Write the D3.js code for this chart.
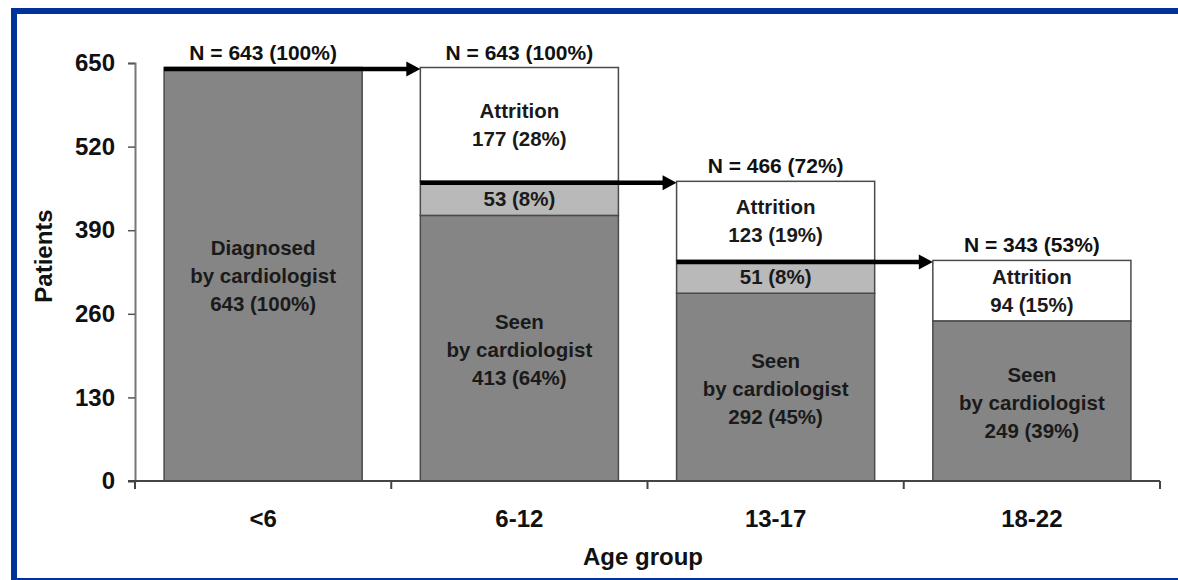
<!DOCTYPE html>
<html>
<head>
<meta charset="utf-8">
<script src="https://cdn.jsdelivr.net/npm/d3@7"></script>
<style>
  body { margin: 0; background: #fff; }
  svg { display: block; font-family: "Liberation Sans", Arial, sans-serif; font-weight: bold; }
</style>
</head>
<body>
<svg id="chart"></svg>
<script>
// --- data ---
const ageGroups = ["<6", "6-12", "13-17", "18-22"];
const seenValues = [643, 413, 292, 249];
const middleValues = [0, 53, 51, 0];
const attritionValues = [0, 177, 123, 94];
const totals = [643, 643, 466, 343];
const totalPct = ["100%", "100%", "72%", "53%"];
const seenPct = ["100%", "64%", "45%", "39%"];
const middlePct = ["", "8%", "8%", ""];
const attritionPct = ["", "28%", "19%", "15%"];
const yTicks = [0, 130, 260, 390, 520, 650];

const W = 1178, H = 580;
const svg = d3.select("#chart").attr("width", W).attr("height", H);

// blue frame
svg.append("rect").attr("x", 11).attr("y", 8).attr("width", W - 11).attr("height", 6).attr("fill", "#003399");
svg.append("rect").attr("x", 11).attr("y", 8).attr("width", 6).attr("height", H - 8).attr("fill", "#003399");
svg.append("rect").attr("x", 11).attr("y", 578).attr("width", W - 11).attr("height", 2).attr("fill", "#003399");

const x = d3.scaleBand().domain(ageGroups).range([135, 1160]).padding(0);
const y = d3.scaleLinear().domain([0, 650]).range([481, 63]);
const barW = x.bandwidth() * 0.773;
const barX = (d) => x(d) + (x.bandwidth() - barW) / 2;

const rows = ageGroups.map((g, i) => ({
    group: g, seen: seenValues[i], middle: middleValues[i], attrition: attritionValues[i]
}));
const keys = ["seen", "middle", "attrition"];
const fills = { seen: "#858585", middle: "#b9b9b9", attrition: "#ffffff" };
const stack = d3.stack().keys(keys)(rows);

// bars
stack.forEach(layer => {
    svg.append("g")
        .selectAll("rect")
        .data(layer.filter(d => d[1] > d[0]))
        .enter()
        .append("rect")
        .attr("x", d => barX(d.data.group))
        .attr("y", d => y(d[1]))
        .attr("width", barW)
        .attr("height", d => y(d[0]) - y(d[1]))
        .attr("fill", fills[layer.key])
        .attr("stroke", "#4a4a4a")
        .attr("stroke-width", 1.5);
});

// axes
const yAxis = svg.append("g")
    .attr("transform", "translate(135,0)")
    .call(d3.axisLeft(y).tickValues(yTicks).tickSize(7).tickPadding(13));
yAxis.select(".domain").attr("stroke", "#777").attr("stroke-width", 2);
yAxis.selectAll(".tick line").attr("stroke", "#555").attr("stroke-width", 1.5);
yAxis.selectAll("text").attr("font-size", 24).attr("font-family", "Liberation Sans, Arial, sans-serif")
    .attr("font-weight", "bold").attr("fill", "#111");

svg.append("line")
    .attr("x1", 128).attr("x2", x.range()[1])
    .attr("y1", y(0)).attr("y2", y(0))
    .attr("stroke", "#444").attr("stroke-width", 2);
const bounds = ageGroups.map(g => x(g)).concat([x.range()[1]]);
svg.append("g").selectAll("line").data(bounds).enter().append("line")
    .attr("x1", d => d).attr("x2", d => d)
    .attr("y1", y(0)).attr("y2", y(0) + 8)
    .attr("stroke", "#444").attr("stroke-width", 2);

svg.append("g").selectAll("text").data(ageGroups).enter().append("text")
    .attr("x", d => x(d) + x.bandwidth() / 2)
    .attr("y", 527)
    .attr("text-anchor", "middle")
    .attr("font-size", 24)
    .attr("fill", "#111")
    .text(d => d);

svg.append("text")
    .attr("x", 643).attr("y", 565)
    .attr("text-anchor", "middle")
    .attr("font-size", 24)
    .attr("fill", "#111")
    .text("Age group");

svg.append("text")
    .attr("transform", "translate(52,256) rotate(-90)")
    .attr("text-anchor", "middle")
    .attr("font-size", 24)
    .attr("fill", "#111")
    .text("Patients");

// in-bar labels
const lineH = 28;
function label(cx, cy, lines) {
    const t = svg.append("text")
        .attr("text-anchor", "middle")
        .attr("font-size", 20.5)
        .attr("fill", "#1a1a1a");
    const y0 = cy - (lines.length - 1) * lineH / 2;
    lines.forEach((s, k) => {
        t.append("tspan").attr("x", cx).attr("y", y0 + k * lineH).attr("dy", "0.35em").text(s);
    });
}

rows.forEach((r, i) => {
    const cx = barX(r.group) + barW / 2;
    const s0 = y(0), s1 = y(r.seen);
    const first = i === 0 ? "Diagnosed" : "Seen";
    label(cx, (s0 + s1) / 2 + 2, [first, "by cardiologist", `${r.seen} (${seenPct[i]})`]);
    if (r.middle > 0) {
        const m1 = y(r.seen + r.middle);
        label(cx, (s1 + m1) / 2, [`${r.middle} (${middlePct[i]})`]);
    }
    if (r.attrition > 0) {
        const a0 = y(r.seen + r.middle), a1 = y(totals[i]);
        label(cx, (a0 + a1) / 2, ["Attrition", `${r.attrition} (${attritionPct[i]})`]);
    }
    svg.append("text")
        .attr("x", cx).attr("y", y(totals[i]) - 8)
        .attr("text-anchor", "middle")
        .attr("font-size", 21)
        .attr("fill", "#111")
        .text(`N = ${totals[i]} (${totalPct[i]})`);
});

// arrows
const arrows = d3.range(ageGroups.length - 1).map(i => ({
    from: barX(ageGroups[i]),
    to: barX(ageGroups[i + 1]),
    value: totals[i + 1]
}));
const ag = svg.append("g");
arrows.forEach(a => {
    const yy = y(a.value) + 1.5;
    ag.append("line")
        .attr("x1", a.from).attr("x2", a.to - 12)
        .attr("y1", yy).attr("y2", yy)
        .attr("stroke", "#000").attr("stroke-width", 4.5);
    ag.append("path")
        .attr("d", `M${a.to},${yy} L${a.to - 14},${yy - 7.5} L${a.to - 14},${yy + 7.5} Z`)
        .attr("fill", "#000");
});
</script>
</body>
</html>
